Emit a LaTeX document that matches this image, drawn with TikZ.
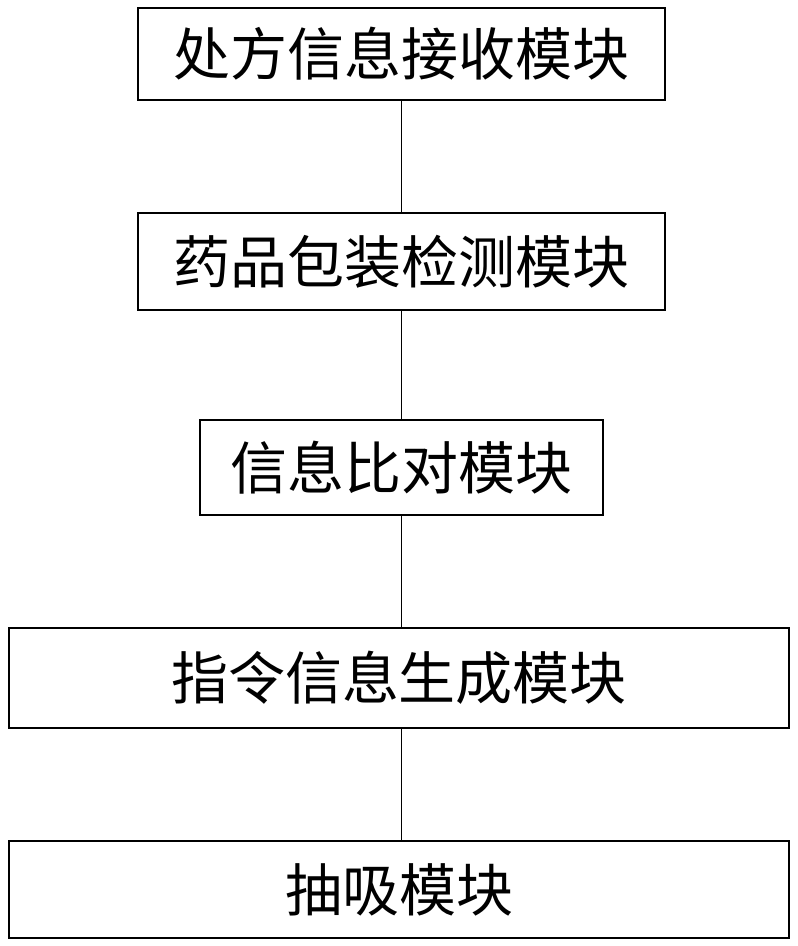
\documentclass[tikz,border=0pt]{standalone}
\usepackage{fontspec}
\newfontfamily\cjk{Noto Sans CJK SC}
\begin{document}
\begin{tikzpicture}[x=1pt,y=-1pt,
  box/.style={draw,line width=1.5pt,inner sep=0pt,font=\cjk\fontsize{57}{64}\selectfont}]
\useasboundingbox (0,0) rectangle (798,946);
\node[box,minimum width=527,minimum height=92] (a) at (401.5,54) {处方信息接收模块};
\node[box,minimum width=527,minimum height=97] (b) at (401.5,261.5) {药品包装检测模块};
\node[box,minimum width=403,minimum height=95] (c) at (401.5,467.5) {信息比对模块};
\node[box,minimum width=780,minimum height=100] (d) at (399,678) {指令信息生成模块};
\node[box,minimum width=780,minimum height=97] (e) at (399,889.5) {抽吸模块};
\draw[line width=0.6pt] (a.south) -- (b.north);
\draw[line width=0.6pt] (b.south) -- (c.north);
\draw[line width=0.6pt] (c.south) -- (c.south|-d.north);
\draw[line width=0.6pt] (c.south|-d.south) -- (c.south|-e.north);
\end{tikzpicture}
\end{document}
